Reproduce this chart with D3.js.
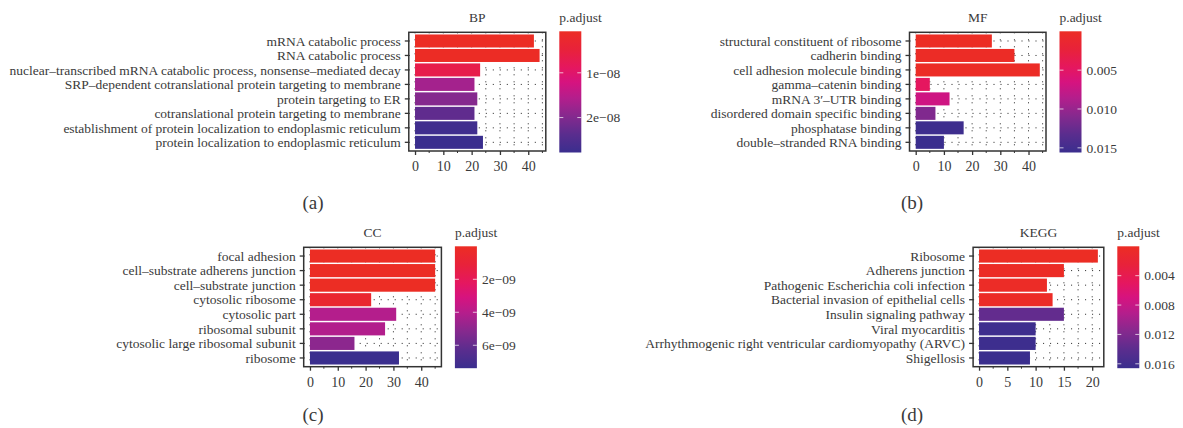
<!DOCTYPE html>
<html>
<head>
<meta charset="utf-8">
<script src="https://cdn.jsdelivr.net/npm/d3@7"></script>
<style>
  body { margin: 0; background: #fff; }
  svg text { font-family: "Liberation Serif", "DejaVu Serif", serif; fill: #3a3a3a; }
</style>
</head>
<body>
<div id="chart"></div>
<script>
// ---- data (top to bottom, as in the figure) ----
const bpTerms = [
    "mRNA catabolic process",
    "RNA catabolic process",
    "nuclear–transcribed mRNA catabolic process, nonsense–mediated decay",
    "SRP–dependent cotranslational protein targeting to membrane",
    "protein targeting to ER",
    "cotranslational protein targeting to membrane",
    "establishment of protein localization to endoplasmic reticulum",
    "protein localization to endoplasmic reticulum"
];
const bpCounts = [42, 44, 23, 21, 22, 21, 22, 24];
const bpPadj = [7.3e-10, 1.0e-9, 6.7e-9, 1.7e-8, 1.97e-8, 2.32e-8, 2.7e-8, 2.78e-8];

const mfTerms = [
    "structural constituent of ribosome",
    "cadherin binding",
    "cell adhesion molecule binding",
    "gamma–catenin binding",
    "mRNA 3′–UTR binding",
    "disordered domain specific binding",
    "phosphatase binding",
    "double–stranded RNA binding"
];
const mfCounts = [27, 35, 44, 5, 12, 7, 17, 10];
const mfPadj = [2e-6, 1.6e-4, 2e-4, 0.0047, 0.0070, 0.0112, 0.0153, 0.0156];

const ccTerms = [
    "focal adhesion",
    "cell–substrate adherens junction",
    "cell–substrate junction",
    "cytosolic ribosome",
    "cytosolic part",
    "ribosomal subunit",
    "cytosolic large ribosomal subunit",
    "ribosome"
];
const ccCounts = [45, 45, 45, 22, 31, 27, 16, 32];
const ccPadj = [1e-12, 2e-12, 3e-12, 5.9e-10, 4.06e-9, 4.1e-9, 5.0e-9, 7.39e-9];

const keggTerms = [
    "Ribosome",
    "Adherens junction",
    "Pathogenic Escherichia coli infection",
    "Bacterial invasion of epithelial cells",
    "Insulin signaling pathway",
    "Viral myocarditis",
    "Arrhythmogenic right ventricular cardiomyopathy (ARVC)",
    "Shigellosis"
];
const keggCounts = [21, 15, 12, 13, 15, 10, 10, 9];
const keggPadj = [3e-5, 2e-4, 3e-4, 3e-4, 0.0136, 0.0163, 0.0164, 0.0166];

// legend ticks
const bpLegendTicks = [1e-8, 2e-8];
const mfLegendTicks = [0.005, 0.010, 0.015];
const ccLegendTicks = [2e-9, 4e-9, 6e-9];
const keggLegendTicks = [0.004, 0.008, 0.012, 0.016];

// ---- colour ramp (low p = red, high p = blue) ----
const rampStops = [0, 0.15, 0.3, 0.42, 0.55, 0.7, 0.85, 1];
const rampColors = ["#EC2D24", "#E8223A", "#E5175F", "#D6137F", "#B41E8C", "#85298E", "#5A2D8E", "#3A2E8E"];
const ramp = d3.scaleLinear().domain(rampStops).range(rampColors).interpolate(d3.interpolateRgb);

const sciFmt = v => {
    const [m, e] = v.toExponential(0).split("e");
    const n = Math.abs(+e);
    return `${m}e${+e < 0 ? "−" : "+"}${n < 10 ? "0" + n : n}`;
};

const fontSize = "13.5px";

const svg = d3.select("#chart").append("svg")
    .attr("width", 1183)
    .attr("height", 428);

const defs = svg.append("defs");

function drawPanel(cfg, idx) {
    const { terms, counts, padj, box } = cfg;
    const maxCount = d3.max(counts);
    const xDomain = [-maxCount * 0.05, maxCount * 1.05];

    const x = d3.scaleLinear().domain(xDomain).range([box.x0, box.x1]);
    const y = d3.scalePoint().domain(terms).range([box.y0, box.y1]).padding(0.6);
    const barH = y.step() * 0.9;

    const pDomain = [d3.min(padj), d3.max(padj)];
    if (cfg.pMin !== undefined) pDomain[0] = cfg.pMin;
    const t = d3.scaleLinear().domain(pDomain).range([0, 1]).clamp(true);
    const color = p => ramp(t(p));

    const g = svg.append("g");

    // dotted grid
    const grid = g.append("g")
        .attr("stroke", "#222")
        .attr("stroke-width", 1)
        .attr("stroke-dasharray", "1,6");
    d3.range(0, xDomain[1], cfg.minor).forEach(v => {
        grid.append("line")
            .attr("x1", x(v)).attr("x2", x(v))
            .attr("y1", box.y0).attr("y2", box.y1);
    });
    terms.forEach(d => {
        grid.append("line")
            .attr("x1", box.x0).attr("x2", box.x1)
            .attr("y1", y(d)).attr("y2", y(d));
    });

    // bars
    g.selectAll("rect.bar")
        .data(terms)
        .join("rect")
        .attr("class", "bar")
        .attr("x", x(0))
        .attr("y", d => y(d) - barH / 2)
        .attr("width", (d, i) => x(counts[i]) - x(0))
        .attr("height", barH)
        .attr("fill", (d, i) => color(padj[i]));

    // panel border
    g.append("rect")
        .attr("x", box.x0).attr("y", box.y0)
        .attr("width", box.x1 - box.x0).attr("height", box.y1 - box.y0)
        .attr("fill", "none")
        .attr("stroke", "#333")
        .attr("stroke-width", 1.5);

    // y ticks and labels
    terms.forEach(d => {
        g.append("line")
            .attr("x1", box.x0 - 4).attr("x2", box.x0)
            .attr("y1", y(d)).attr("y2", y(d))
            .attr("stroke", "#333").attr("stroke-width", 1.3);
        g.append("text")
            .attr("x", box.x0 - 8)
            .attr("y", y(d))
            .attr("dy", "0.35em")
            .attr("text-anchor", "end")
            .attr("font-size", fontSize)
            .text(d);
    });

    // x axis
    const ticks = x.ticks(5).filter(v => v >= 0);
    const xAxis = d3.axisBottom(x).tickValues(ticks).tickSize(4).tickPadding(6);
    const ax = g.append("g")
        .attr("transform", `translate(0,${box.y1})`)
        .call(xAxis);
    ax.select(".domain").remove();
    ax.selectAll(".tick line").attr("stroke", "#333").attr("stroke-width", 1.3);
    ax.selectAll(".tick text")
        .attr("font-size", "14px")
        .attr("font-family", "Liberation Serif, serif")
        .attr("fill", "#3a3a3a");
    // minor ticks
    d3.range(0, xDomain[1], cfg.minor).filter(v => !ticks.includes(v)).forEach(v => {
        g.append("line")
            .attr("x1", x(v)).attr("x2", x(v))
            .attr("y1", box.y1).attr("y2", box.y1 + 2)
            .attr("stroke", "#333").attr("stroke-width", 1);
    });

    // title
    g.append("text")
        .attr("x", (box.x0 + box.x1) / 2)
        .attr("y", box.y0 - 10)
        .attr("text-anchor", "middle")
        .attr("font-size", fontSize)
        .text(cfg.title);

    // colour bar legend
    const lx = box.x1 + 13.5;
    const lw = 22;
    const ly0 = box.y0 - 1;
    const ly1 = box.y1 + 1.5;
    const gradId = "grad" + idx;
    const grad = defs.append("linearGradient")
        .attr("id", gradId)
        .attr("x1", 0).attr("y1", 0).attr("x2", 0).attr("y2", 1);
    rampStops.forEach((s, i) => {
        grad.append("stop").attr("offset", s).attr("stop-color", rampColors[i]);
    });
    g.append("text")
        .attr("x", lx)
        .attr("y", box.y0 - 10)
        .attr("font-size", fontSize)
        .text("p.adjust");
    g.append("rect")
        .attr("x", lx).attr("y", ly0)
        .attr("width", lw).attr("height", ly1 - ly0)
        .attr("fill", `url(#${gradId})`);
    const ly = d3.scaleLinear().domain(pDomain).range([ly0, ly1]);
    cfg.legendTicks.forEach(v => {
        const yy = ly(v);
        g.append("line")
            .attr("x1", lx).attr("x2", lx + 4)
            .attr("y1", yy).attr("y2", yy)
            .attr("stroke", "#fff").attr("stroke-opacity", 0.7);
        g.append("line")
            .attr("x1", lx + lw - 4).attr("x2", lx + lw)
            .attr("y1", yy).attr("y2", yy)
            .attr("stroke", "#fff").attr("stroke-opacity", 0.7);
        g.append("text")
            .attr("x", lx + lw + 5)
            .attr("y", yy)
            .attr("dy", "0.35em")
            .attr("font-size", fontSize)
            .text(cfg.legendFmt(v));
    });

    // panel tag
    svg.append("text")
        .attr("x", cfg.tagX)
        .attr("y", cfg.tagY)
        .attr("text-anchor", "middle")
        .attr("font-size", "19px")
        .attr("fill", "#222")
        .text(cfg.tag);
}

const panels = [
    {
        terms: bpTerms, counts: bpCounts, padj: bpPadj, title: "BP", tag: "(a)",
        box: { x0: 408.8, x1: 545.8, y0: 32.3, y1: 151 },
        minor: 5, legendTicks: bpLegendTicks, legendFmt: sciFmt,
        tagX: 313, tagY: 209
    },
    {
        terms: mfTerms, counts: mfCounts, padj: mfPadj, title: "MF", tag: "(b)",
        box: { x0: 909.5, x1: 1046, y0: 32.3, y1: 151 },
        minor: 5, legendTicks: mfLegendTicks, legendFmt: d3.format(".3f"), pMin: 0,
        tagX: 912, tagY: 209
    },
    {
        terms: ccTerms, counts: ccCounts, padj: ccPadj, title: "CC", tag: "(c)",
        box: { x0: 303.7, x1: 441.4, y0: 247.3, y1: 366.7 },
        minor: 5, legendTicks: ccLegendTicks, legendFmt: sciFmt, pMin: 0,
        tagX: 313, tagY: 421
    },
    {
        terms: keggTerms, counts: keggCounts, padj: keggPadj, title: "KEGG", tag: "(d)",
        box: { x0: 973.1, x1: 1103.8, y0: 247.3, y1: 366.7 },
        minor: 2.5, legendTicks: keggLegendTicks, legendFmt: d3.format(".3f"), pMin: 0,
        tagX: 912, tagY: 421
    }
];

panels.forEach((p, i) => drawPanel(p, i));
</script>
</body>
</html>
